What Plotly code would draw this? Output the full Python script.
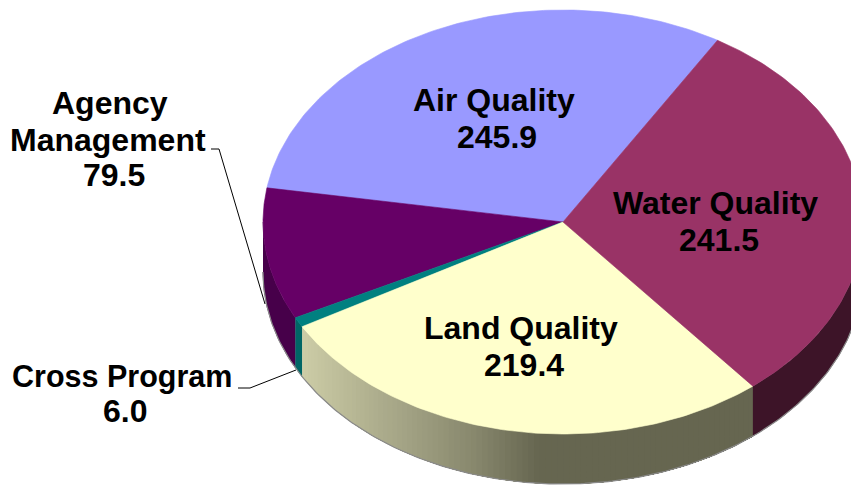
import numpy as np
import plotly.graph_objects as go

categories = ["Air Quality", "Agency Management", "Cross Program", "Land Quality", "Water Quality"]
values = [245.9, 79.5, 6.0, 219.4, 241.5]
top_colors = ["#9999FF", "#660066", "#008080", "#FFFFCC", "#993366"]
wall_colors = ["#5A5A8C", "#47004A", "#006666", None, "#3D1428"]

CX, CY, RX, RY, DEPTH = 563, 222, 300, 212, 50
START_DEG = 59

FONT = "Liberation Sans, Arial, sans-serif"
fig = go.Figure()


def rim(a, b, n=120):
    t = np.radians(np.linspace(a, b, n))
    return CX + RX * np.cos(t), CY - RY * np.sin(t)


def poly(x, y, color, width=0.6):
    fig.add_trace(go.Scatter(x=list(x), y=list(y), mode="lines", fill="toself",
                             fillcolor=color, line=dict(color=color, width=width),
                             hoverinfo="skip", showlegend=False))


def land_shade(frac):
    stops_f = [0.0, 0.1, 0.22, 0.38, 0.52, 1.0]
    r = np.interp(frac, stops_f, [204, 185, 163, 135, 102, 102])
    b = np.interp(frac, stops_f, [166, 150, 133, 108, 80, 80])
    return f"rgb({r:.0f},{r:.0f},{b:.0f})"


edges = START_DEG + np.concatenate([[0], np.cumsum(values)]) / sum(values) * 360

# side walls (visible only on the near half of the ellipse)
for i, wall in enumerate(wall_colors):
    a, b = max(edges[i], 180), min(edges[i + 1], 360)
    if a >= b:
        continue
    if wall is not None:
        x, y = rim(a, b)
        poly(np.r_[x, x[::-1]], np.r_[y, y[::-1] + DEPTH], wall)
    else:
        x_l, _ = rim(a, a, 2)
        x_r, _ = rim(b, b, 2)
        steps = np.linspace(a, b, 90)
        for s0 in steps[:-1]:
            x, y = rim(s0, b, 80)
            f = (x[0] - x_l[0]) / (x_r[0] - x_l[0])
            poly(np.r_[x, x[::-1]], np.r_[y, y[::-1] + DEPTH], land_shade(f), 0)

# grey soft edge under the wall
x, y = rim(180, 360, 240)
fig.add_trace(go.Scatter(x=x, y=y + DEPTH, mode="lines", line=dict(color="#8a8a8a", width=1.2),
                         hoverinfo="skip", showlegend=False))

# top face
for i, color in enumerate(top_colors):
    x, y = rim(edges[i], edges[i + 1])
    poly(np.r_[CX, x, CX], np.r_[CY, y, CY], color)

# leader lines
fig.add_trace(go.Scatter(x=[211, 219, 265], y=[149, 149, 304], mode="lines",
                         line=dict(color="black", width=1), hoverinfo="skip", showlegend=False))
fig.add_trace(go.Scatter(x=[238, 250, 296], y=[388, 388, 370], mode="lines",
                         line=dict(color="black", width=1), hoverinfo="skip", showlegend=False))

label_lines = [
    (494, 100, "Air Quality", 32), (497, 137, f"{values[0]:.1f}", 32),
    (110, 103, "Agency", 32), (108, 140, "Management", 32), (114, 175, f"{values[1]:.1f}", 32),
    (122, 376, "Cross Program", 30.5), (125, 411, f"{values[2]:.1f}", 32),
    (521, 328, "Land Quality", 32), (524, 365, f"{values[3]:.1f}", 32),
    (715, 203, "Water Quality", 32), (719, 240, f"{values[4]:.1f}", 32),
]
for x0, y0, txt, size in label_lines:
    fig.add_annotation(x=x0, y=y0, text=f"<b>{txt}</b>", showarrow=False, xanchor="center",
                       yanchor="middle", align="center",
                       font=dict(family=FONT, size=size, color="black"))

fig.update_layout(width=851, height=485, margin=dict(l=0, r=0, t=0, b=0),
                  paper_bgcolor="white", plot_bgcolor="white", showlegend=False,
                  xaxis=dict(range=[0, 851], visible=False, fixedrange=True),
                  yaxis=dict(range=[485, 0], visible=False, fixedrange=True))
fig.write_html("out.html", config={"displayModeBar": False},
               default_width="851px", default_height="485px",
               post_script="document.body.style.margin='0';document.body.style.overflow='hidden';")
